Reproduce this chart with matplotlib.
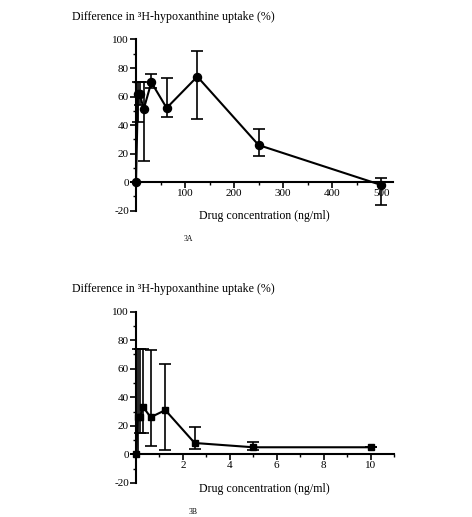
import matplotlib.pyplot as plt
from matplotlib.ticker import MultipleLocator

plt.rcParams['font.family'] = ['Liberation Serif', 'DejaVu Serif']
plt.rcParams['axes.unicode_minus'] = False

# panel 3A data
conc_a = [0, 3.9, 7.8, 15.6, 31.25, 62.5, 125, 250, 500]
diff_a = [0, 62, 62, 51, 70, 52, 74, 26, -2]
upper_a = [0, 70, 70, 70, 76, 73, 92, 37, 3]
lower_a = [0, 42, 54, 15, 66, 46, 44, 18, -16]

# panel 3B data
conc_b = [0, 0.078, 0.156, 0.3125, 0.625, 1.25, 2.5, 5, 10]
diff_b = [0, 26, 26, 33, 26, 31, 8, 5, 5]
upper_b = [0, 74, 74, 74, 73, 63, 19, 9, 5]
lower_b = [0, 0, 15, 15, 6, 3, 4, 3, 5]

ylabel = 'Difference in ³H-hypoxanthine uptake (%)'
xlabel = 'Drug concentration (ng/ml)'

fig = plt.figure(figsize=(4.72, 5.17), dpi=100)
W, H = 472, 517


def panel(rect, x, y, up, lo, marker, xmax, xmaj, xmin_loc, msize):
    ax = fig.add_axes(rect)
    yerr = [[v - l for v, l in zip(y, lo)], [u - v for v, u in zip(y, up)]]
    ax.errorbar(x, y, yerr=yerr, color='black', lw=1.5, marker=marker,
                ms=msize, capsize=4.5, elinewidth=1.2, capthick=1.2, clip_on=False)
    ax.set_xlim(0, xmax)
    ax.set_ylim(-20, 100)
    ax.spines['top'].set_visible(False)
    ax.spines['right'].set_visible(False)
    ax.spines['bottom'].set_position(('data', 0))
    ax.spines['left'].set_linewidth(1.5)
    ax.spines['bottom'].set_linewidth(1.5)
    ax.yaxis.set_major_locator(MultipleLocator(20))
    ax.yaxis.set_minor_locator(MultipleLocator(10))
    ax.xaxis.set_major_locator(MultipleLocator(xmaj))
    ax.xaxis.set_minor_locator(MultipleLocator(xmin_loc))
    ax.tick_params(which='major', direction='out', length=4, width=1.2,
                   labelsize=8, pad=1)
    ax.tick_params(which='minor', direction='out', length=2.5, width=1)
    xt = [t for t in ax.get_xticks() if 0 < t <= xmax]
    ax.set_xticks(xt)
    ax.set_xticklabels([f'{t:g}' for t in xt])
    return ax


ax_a = panel([136 / W, 1 - 210.7 / H, 257 / W, 171.2 / H],
             conc_a, diff_a, upper_a, lower_a, 'o', 524, 100, 50, 5.8)
ax_b = panel([136 / W, 1 - 483 / H, 258 / W, 171.5 / H],
             conc_b, diff_b, upper_b, lower_b, 's', 11, 2, 1, 5)

fig.text(72 / W, 1 - 17 / H, ylabel, fontsize=8.6, va='center', ha='left')
fig.text(264 / W, 1 - 216 / H, xlabel, fontsize=8.6, va='center', ha='center')
fig.text(188 / W, 1 - 239 / H, '3A', fontsize=5.5, va='center', ha='center')

fig.text(72 / W, 1 - 289 / H, ylabel, fontsize=8.6, va='center', ha='left')
fig.text(264 / W, 1 - 489 / H, xlabel, fontsize=8.6, va='center', ha='center')
fig.text(193 / W, 1 - 512 / H, '3B', fontsize=5.5, va='center', ha='center')

plt.savefig('out.png', dpi=100)
